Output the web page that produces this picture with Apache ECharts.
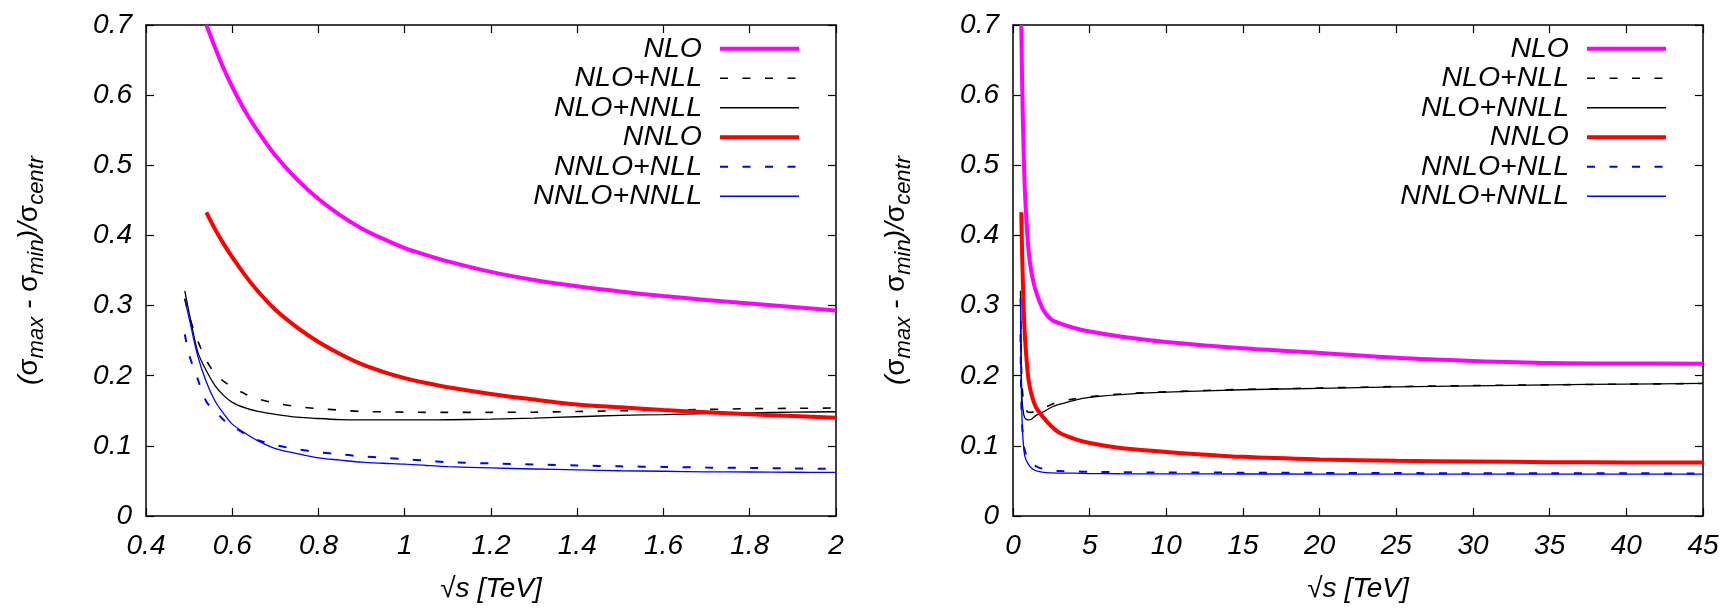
<!DOCTYPE html>
<html><head><meta charset="utf-8">
<script src="https://cdn.jsdelivr.net/npm/echarts@6/dist/echarts.min.js"></script>
<style>html,body{margin:0;padding:0;background:#fff}#c{width:1729px;height:608px}</style>
</head><body><div id="c"></div><script>
const seriesNames = ['NLO', 'NLO+NLL', 'NLO+NNLL', 'NNLO', 'NNLO+NLL', 'NNLO+NNLL'];

// Left panel (sqrt(s) 0.4 - 2 TeV)
const xLeft = [0.49,0.50,0.52,0.54,0.56,0.58,0.60,0.63,0.66,0.70,0.75,0.80,0.85,0.90,0.95,1.0,1.05,1.1,1.2,1.3,1.4,1.5,1.6,1.7,1.8,1.9,2.0];
const nloLeft      = [null,null,null,0.700,0.668,0.638,0.612,0.577,0.548,0.514,0.480,0.452,0.429,0.410,0.395,0.382,0.372,0.363,0.348,0.3365,0.3275,0.320,0.3135,0.308,0.303,0.298,0.293];
const nloNllLeft   = [0.310,0.285,0.250,0.222,0.203,0.192,0.184,0.174,0.167,0.161,0.156,0.153,0.151,0.149,0.1485,0.148,0.1478,0.1477,0.1478,0.148,0.149,0.150,0.151,0.152,0.153,0.1535,0.154];
const nloNnllLeft  = [0.321,0.290,0.234,0.207,0.186,0.172,0.162,0.154,0.149,0.145,0.141,0.139,0.1375,0.137,0.137,0.137,0.137,0.1372,0.138,0.1395,0.1415,0.1435,0.1445,0.146,0.147,0.148,0.1486];
const nnloLeft     = [null,null,null,0.433,0.409,0.388,0.369,0.343,0.320,0.294,0.269,0.248,0.231,0.2165,0.2055,0.1965,0.1895,0.1835,0.174,0.166,0.159,0.155,0.151,0.148,0.145,0.1425,0.140];
const nnloNllLeft  = [0.259,0.230,0.195,0.163,0.150,0.137,0.128,0.117,0.108,0.101,0.0953,0.091,0.088,0.085,0.083,0.081,0.0788,0.0767,0.075,0.0735,0.072,0.0708,0.070,0.069,0.0685,0.0678,0.067];
const nnloNnllLeft = [0.309,0.282,0.228,0.191,0.164,0.146,0.131,0.118,0.107,0.096,0.089,0.0828,0.0797,0.0767,0.0752,0.074,0.072,0.0703,0.0685,0.067,0.0657,0.0645,0.0638,0.063,0.0627,0.0624,0.0622];

// Right panel (sqrt(s) 0 - 45 TeV)
const xRight = [0.49,0.54,0.6,0.7,0.8,1.0,1.2,1.5,2.0,2.5,3,4,5,7,10,15,20,25,30,35,40,45];
const nloRight      = [null,0.700,0.612,0.514,0.452,0.382,0.348,0.320,0.293,0.280,0.275,0.268,0.263,0.256,0.248,0.239,0.2325,0.2255,0.221,0.218,0.2175,0.217];
const nloNllRight   = [0.310,0.222,0.184,0.161,0.153,0.148,0.1478,0.150,0.154,0.159,0.163,0.167,0.170,0.174,0.177,0.1805,0.1825,0.1845,0.186,0.187,0.188,0.189];
const nloNnllRight  = [0.321,0.207,0.162,0.145,0.139,0.137,0.138,0.1435,0.1486,0.155,0.159,0.165,0.169,0.173,0.1765,0.180,0.182,0.184,0.1855,0.187,0.188,0.189];
const nnloRight     = [null,0.433,0.369,0.294,0.248,0.1965,0.174,0.155,0.140,0.128,0.119,0.110,0.104,0.097,0.0914,0.0843,0.0806,0.0786,0.0778,0.0767,0.0764,0.0762];
const nnloNllRight  = [0.259,0.163,0.128,0.101,0.091,0.081,0.075,0.0708,0.067,0.065,0.064,0.0635,0.063,0.0625,0.062,0.0618,0.0615,0.0612,0.061,0.0609,0.0608,0.0607];
const nnloNnllRight = [0.309,0.191,0.131,0.096,0.0828,0.074,0.0685,0.0645,0.0622,0.0615,0.0612,0.061,0.0605,0.0602,0.060,0.0599,0.0598,0.0597,0.0597,0.0596,0.0596,0.0596];

const FONT = "'Liberation Sans', Arial, Helvetica, sans-serif";
const pairs = (xs, ys) => xs.map((x, i) => [x, ys[i]]).filter(p => p[1] !== null);

const styles = [
  { color: '#ff00ff', width: 4, type: 'solid' },
  { color: '#000000', width: 1.6, type: [8, 14.5] },
  { color: '#000000', width: 1.3, type: 'solid' },
  { color: '#ff0000', width: 4, type: 'solid' },
  { color: '#0000ff', width: 2, type: [8, 14.5] },
  { color: '#0000ff', width: 1.3, type: 'solid' }
];

const leftData = [nloLeft, nloNllLeft, nloNnllLeft, nnloLeft, nnloNllLeft, nnloNnllLeft];
const rightData = [nloRight, nloNllRight, nloNnllRight, nnloRight, nnloNllRight, nnloNnllRight];

const series = [];
[[xLeft, leftData, 0], [xRight, rightData, 2]].forEach(([xs, dataSet, axisIdx]) => {
  seriesNames.forEach((name, i) => {
    const st = styles[i];
    series.push({
      name, type: 'line', xAxisIndex: axisIdx, yAxisIndex: axisIdx,
      data: pairs(xs, dataSet[i]), symbol: 'none', showSymbol: false,
      smooth: 0.3,
      color: st.color, lineStyle: { color: st.color, width: st.width, type: st.type }
    });
  });
});

const labelStyle = { fontFamily: FONT, fontStyle: 'italic', fontSize: 28, color: '#000' };
const axisLine = { show: true, onZero: false, lineStyle: { color: '#000', width: 1.5 } };
const axisTick = { show: true, inside: true, length: 8, lineStyle: { color: '#000', width: 1.2 } };

const yName = '{p|(}{s|σ}{sub|max}{p| - }{s|σ}{sub|min}{p|)/}{s|σ}{sub|centr}';
const yNameStyle = {
  rich: {
    p:   { fontFamily: FONT, fontStyle: 'italic', fontSize: 28, lineHeight: 37, color: '#000' },
    s:   { fontFamily: FONT, fontSize: 28, lineHeight: 37, color: '#000' },
    sub: { fontFamily: FONT, fontStyle: 'italic', fontSize: 22, lineHeight: 23, verticalAlign: 'bottom', color: '#000' }
  }
};

function xAxes(grid, min, max, interval) {
  return [
    { type: 'value', gridIndex: grid, position: 'bottom', min, max, interval,
      axisLine, axisTick, splitLine: { show: false },
      axisLabel: Object.assign({ margin: 16 }, labelStyle),
      name: '√s [TeV]', nameLocation: 'middle', nameGap: 59,
      nameTextStyle: Object.assign({}, labelStyle) },
    { type: 'value', gridIndex: grid, position: 'top', min, max, interval,
      axisLine, axisTick, splitLine: { show: false }, axisLabel: { show: false } }
  ];
}
function yAxes(grid) {
  return [
    { type: 'value', gridIndex: grid, position: 'left', min: 0, max: 0.7, interval: 0.1,
      axisLine, axisTick, splitLine: { show: false },
      axisLabel: Object.assign({ margin: 14 }, labelStyle),
      name: yName, nameLocation: 'middle', nameRotate: 90, nameGap: 98,
      nameTextStyle: yNameStyle },
    { type: 'value', gridIndex: grid, position: 'right', min: 0, max: 0.7, interval: 0.1,
      axisLine, axisTick, splitLine: { show: false }, axisLabel: { show: false } }
  ];
}

const legendData = seriesNames.map((name, i) => ({
  name,
  lineStyle: { width: styles[i].width, type: styles[i].type, color: styles[i].color, opacity: 1 },
  itemStyle: { opacity: 0, borderWidth: 0 }
}));
function legend(right) {
  return {
    data: legendData, orient: 'vertical', align: 'right', right, top: 34, padding: 0,
    itemWidth: 79, itemHeight: 12, itemGap: 0, selectedMode: false,
    itemStyle: { opacity: 0, borderWidth: 0 },
    textStyle: { fontFamily: FONT, fontStyle: 'italic', fontSize: 28.5, lineHeight: 29.5, color: '#000', padding: [0, 13, 0, 0] }
  };
}

const chart = echarts.init(document.getElementById('c'), null, { renderer: 'canvas' });
chart.setOption({
  animation: false,
  backgroundColor: '#fff',
  grid: [
    { left: 146, top: 25, width: 690, height: 492 },
    { left: 1013, top: 25, width: 690, height: 492 }
  ],
  xAxis: [...xAxes(0, 0.4, 2, 0.2), ...xAxes(1, 0, 45, 5)],
  yAxis: [...yAxes(0), ...yAxes(1)],
  legend: [legend(928), legend(61)],
  series
});
</script></body></html>
